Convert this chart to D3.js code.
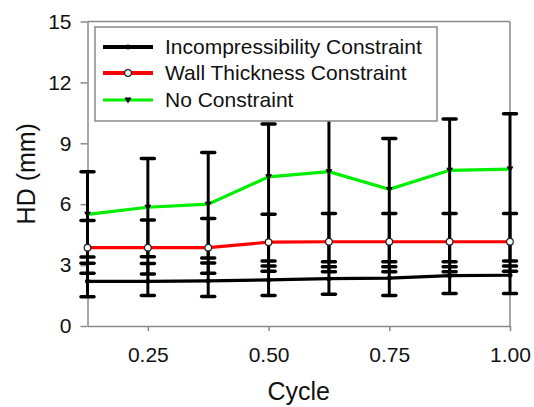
<!DOCTYPE html>
<html>
<head>
<meta charset="utf-8">
<script src="https://cdn.jsdelivr.net/npm/d3@7"></script>
<style>
  html, body { margin: 0; padding: 0; background: #fff; }
  svg { display: block; font-family: "Liberation Sans", Arial, sans-serif; }
</style>
</head>
<body>
<svg id="chart" width="534" height="407"></svg>
<script>
// ---- data ----
const cycles = [0.125, 0.25, 0.375, 0.5, 0.625, 0.75, 0.875, 1.0];
const xTicks = [0.25, 0.5, 0.75, 1.0];
const yTicks = [0, 3, 6, 9, 12, 15];

const incompMean = [2.2, 2.2, 2.22, 2.27, 2.33, 2.36, 2.48, 2.5];
const incompHi   = [3.09, 3.08, 3.1, 2.95, 2.92, 2.92, 2.92, 2.95];
const incompLo   = [1.44, 1.5, 1.45, 1.5, 1.56, 1.5, 1.6, 1.6];

const wallMean = [3.86, 3.86, 3.86, 4.13, 4.15, 4.15, 4.15, 4.15];
const wallHi   = [5.2, 5.22, 5.3, 5.5, 5.54, 5.54, 5.54, 5.54];
const wallLo   = [2.6, 2.56, 2.6, 2.7, 2.67, 2.67, 2.67, 2.7];

const noneMean = [5.5, 5.85, 6.0, 7.35, 7.6, 6.73, 7.67, 7.73];
const noneHi   = [7.6, 8.25, 8.55, 9.95, 10.5, 9.24, 10.2, 10.45];
const noneLo   = [3.4, 3.41, 3.35, 3.2, 3.17, 3.17, 3.17, 3.2];

const seriesNames = ["Incompressibility Constraint", "Wall Thickness Constraint", "No Constraint"];
const seriesColors = ["#000000", "#ff0000", "#00ee00"];

const series = [
  { name: seriesNames[0], color: seriesColors[0], mean: incompMean, hi: incompHi, lo: incompLo, marker: "dot" },
  { name: seriesNames[1], color: seriesColors[1], mean: wallMean, hi: wallHi, lo: wallLo, marker: "ring" },
  { name: seriesNames[2], color: seriesColors[2], mean: noneMean, hi: noneHi, lo: noneLo, marker: "tri" }
];

// ---- layout ----
const svg = d3.select("#chart");
const pLeft = 87.5, pRight = 510, pTop = 21.5, pBottom = 326;
const x = d3.scaleLinear().domain([0.125, 1.0]).range([pLeft, pRight]);
const y = d3.scaleLinear().domain([0, 15]).range([pBottom, pTop]);
const axisGray = "#8a8a8a";

// frame (top & right)
svg.append("line").attr("x1", pLeft).attr("x2", pRight).attr("y1", pTop).attr("y2", pTop)
  .attr("stroke", axisGray).attr("stroke-width", 1.5);
svg.append("line").attr("x1", pRight).attr("x2", pRight).attr("y1", pTop).attr("y2", pBottom)
  .attr("stroke", axisGray).attr("stroke-width", 1.5);

// axes
const yAxis = svg.append("g").attr("transform", `translate(${pLeft},0)`)
  .call(d3.axisLeft(y).tickValues(yTicks).tickSize(7).tickSizeOuter(0).tickPadding(9));
const xAxis = svg.append("g").attr("transform", `translate(0,${pBottom})`)
  .call(d3.axisBottom(x).tickValues(xTicks).tickFormat(d3.format(".2f")).tickSize(5).tickSizeOuter(0).tickPadding(16));
[xAxis, yAxis].forEach(g => {
  g.select(".domain").attr("stroke", axisGray).attr("stroke-width", 1.5);
  g.selectAll(".tick line").attr("stroke", axisGray).attr("stroke-width", 1.5);
  g.selectAll(".tick text").attr("fill", "#111").attr("font-size", 21)
    .attr("font-family", "'Liberation Sans', Arial, sans-serif");
});

// axis titles
svg.append("text").attr("x", (pLeft + pRight) / 2).attr("y", 400)
  .attr("text-anchor", "middle").attr("font-size", 25).attr("fill", "#111").text("Cycle");
svg.append("text").attr("transform", `translate(26.5,${(pTop + pBottom) / 2}) rotate(-90)`)
  .attr("text-anchor", "middle").attr("dy", "0.35em").attr("font-size", 25).attr("fill", "#111").text("HD (mm)");

// error bars
const eb = svg.append("g");
const capW = 6.5;
series.forEach(s => {
  cycles.forEach((c, i) => {
    eb.append("line").attr("x1", x(c)).attr("x2", x(c)).attr("y1", y(s.lo[i])).attr("y2", y(s.hi[i]))
      .attr("stroke", "#000").attr("stroke-width", 3);
    [s.lo[i], s.hi[i]].forEach(v => {
      eb.append("line").attr("x1", x(c) - capW).attr("x2", x(c) + capW).attr("y1", y(v)).attr("y2", y(v))
        .attr("stroke", "#000").attr("stroke-width", 3.5).attr("stroke-linecap", "round");
    });
  });
});

// lines
const line = d3.line().x((d, i) => x(cycles[i])).y(d => y(d));
series.forEach(s => {
  svg.append("path").datum(s.mean).attr("d", line).attr("fill", "none")
    .attr("stroke", s.color).attr("stroke-width", 3.2);
});

// markers
function drawMarker(g, type, cx, cy) {
  if (type === "dot") {
    g.append("circle").attr("cx", cx).attr("cy", cy).attr("r", 2.5).attr("fill", "#000");
  } else if (type === "ring") {
    g.append("circle").attr("cx", cx).attr("cy", cy).attr("r", 3.3).attr("fill", "#fff")
      .attr("stroke", "#222").attr("stroke-width", 1.2);
  } else {
    g.append("path").attr("d", `M${cx - 3.5},${cy - 2.5}L${cx + 3.5},${cy - 2.5}L${cx},${cy + 3.5}Z`)
      .attr("fill", "#000");
  }
}
const mk = svg.append("g");
series.forEach(s => {
  cycles.forEach((c, i) => drawMarker(mk, s.marker, x(c), y(s.mean[i])));
});

// legend
const lg = svg.append("g");
lg.append("rect").attr("x", 95).attr("y", 27).attr("width", 342).attr("height", 94)
  .attr("fill", "#fff").attr("stroke", axisGray).attr("stroke-width", 1.5);
const rowY = [47, 73, 100];
series.forEach((s, i) => {
  lg.append("line").attr("x1", 103).attr("x2", 153).attr("y1", rowY[i]).attr("y2", rowY[i])
    .attr("stroke", s.color).attr("stroke-width", i === 2 ? 3 : 3.8);
  drawMarker(lg, s.marker, 128, rowY[i]);
  lg.append("text").attr("x", 165).attr("y", rowY[i]).attr("dy", "0.35em")
    .attr("font-size", 21).attr("fill", "#111").text(s.name);
});
</script>
</body>
</html>
